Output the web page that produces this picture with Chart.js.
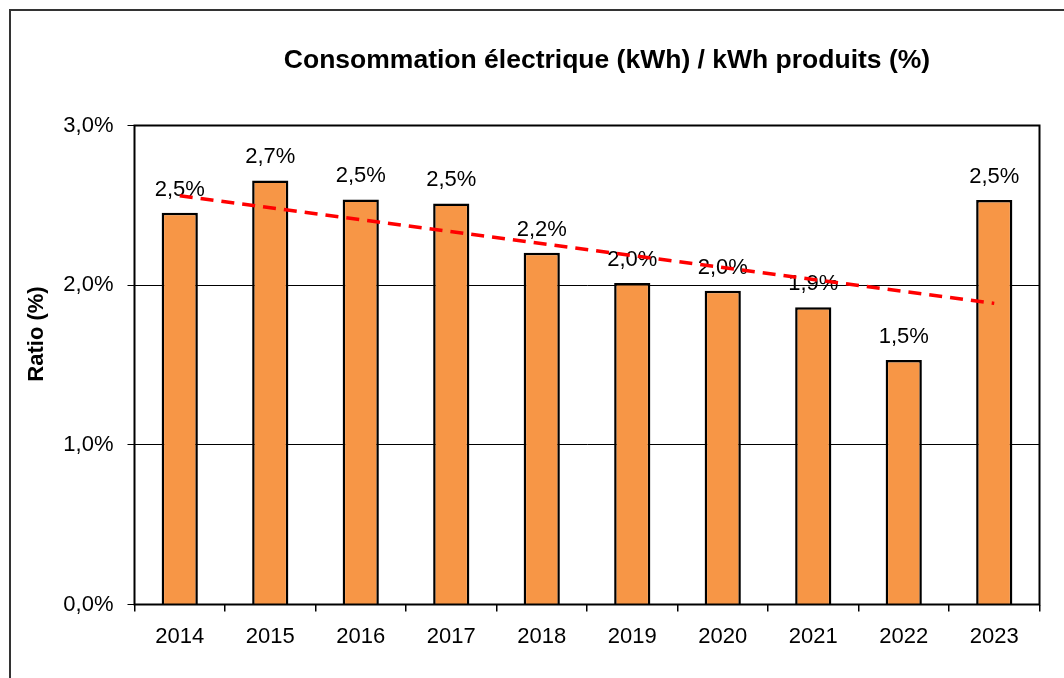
<!DOCTYPE html>
<html>
<head>
<meta charset="utf-8">
<script src="https://cdn.jsdelivr.net/npm/chart.js@4.4.0/dist/chart.umd.min.js"></script>
<style>
html,body{margin:0;padding:0;background:#fff;}
#wrap{width:1064px;height:678px;position:relative;}
</style>
</head>
<body>
<div id="wrap"><canvas id="c" width="1064" height="678"></canvas></div>
<script>
const categories = ['2014','2015','2016','2017','2018','2019','2020','2021','2022','2023'];
const ratioValues = [2.453, 2.656, 2.537, 2.512, 2.203, 2.013, 1.965, 1.861, 1.531, 2.533];
const trendValues = [2.560, null, null, null, null, null, null, null, null, 1.886];
const yTicks = [0, 1, 2, 3];
const chartTitle = 'Consommation électrique (kWh) / kWh produits (%)';
const yAxisTitle = 'Ratio (%)';

const FONT = '"Liberation Sans", Arial, sans-serif';
const fmt = v => v.toFixed(1).replace('.', ',') + '%';

const deco = {
  id: 'deco',
  beforeDraw(chart) {
    const ctx = chart.ctx;
    ctx.save();
    ctx.fillStyle = '#fff';
    ctx.fillRect(0, 0, chart.width, chart.height);
    // outer frame (partially cropped)
    ctx.strokeStyle = '#333';
    ctx.lineWidth = 2;
    ctx.beginPath();
    ctx.moveTo(10, chart.height + 5);
    ctx.lineTo(10, 10);
    ctx.lineTo(chart.width + 5, 10);
    ctx.stroke();
    // title
    ctx.fillStyle = '#000';
    ctx.font = 'bold 26.5px ' + FONT;
    ctx.textAlign = 'center';
    ctx.textBaseline = 'alphabetic';
    ctx.fillText(chartTitle, 607, 68.3);
    // y axis title
    ctx.translate(42.7, 334);
    ctx.rotate(-Math.PI / 2);
    ctx.font = 'bold 22px ' + FONT;
    ctx.fillText(yAxisTitle, 0, 0);
    ctx.restore();
  },
  afterDatasetDraw(chart, args) {
    if (args.index !== 0) return;
    const ctx = chart.ctx;
    ctx.save();
    ctx.fillStyle = '#000';
    ctx.font = '22px ' + FONT;
    ctx.textAlign = 'center';
    ctx.textBaseline = 'alphabetic';
    args.meta.data.forEach((bar, i) => {
      ctx.fillText(fmt(ratioValues[i]), bar.x, bar.y - 17);
    });
    ctx.restore();
  },
  afterDraw(chart) {
    const a = chart.chartArea;
    const ctx = chart.ctx;
    ctx.save();
    ctx.strokeStyle = '#000';
    ctx.lineWidth = 2;
    ctx.strokeRect(a.left, a.top, a.right - a.left, a.bottom - a.top);
    ctx.restore();
  }
};

new Chart(document.getElementById('c'), {
  type: 'bar',
  data: {
    labels: categories,
    datasets: [
      {
        type: 'bar',
        data: ratioValues,
        backgroundColor: '#F79646',
        borderColor: '#000',
        borderWidth: 2.5,
        barPercentage: 0.4,
        categoryPercentage: 1.0,
        order: 2
      },
      {
        type: 'line',
        data: trendValues,
        borderColor: '#FF0000',
        borderWidth: 3.5,
        borderDash: [13, 8],
        pointRadius: 0,
        spanGaps: true,
        fill: false,
        tension: 0,
        order: 1
      }
    ]
  },
  options: {
    responsive: false,
    animation: false,
    devicePixelRatio: 1,
    layout: { padding: { top: 125.5, right: 24.5, bottom: 0, left: 0 } },
    plugins: {
      legend: { display: false },
      title: { display: false },
      tooltip: { enabled: false }
    },
    scales: {
      x: {
        grid: { display: true, drawOnChartArea: false, drawTicks: true, tickLength: 7, color: '#000', lineWidth: 1.5, offset: true },
        border: { display: false },
        ticks: { color: '#000', font: { family: FONT, size: 22 }, padding: 12, maxRotation: 0, autoSkip: false },
        afterFit: s => { s.height = 73.5; }
      },
      y: {
        min: 0,
        max: 3,
        afterBuildTicks: s => { s.ticks = yTicks.map(v => ({ value: v })); },
        ticks: { color: '#000', font: { family: FONT, size: 22 }, padding: 14, callback: v => fmt(v) },
        grid: { color: '#000', lineWidth: 1, tickLength: 7, drawTicks: true },
        border: { display: false },
        afterFit: s => { s.width = 134.5; }
      }
    }
  },
  plugins: [deco]
});
</script>
</body>
</html>
